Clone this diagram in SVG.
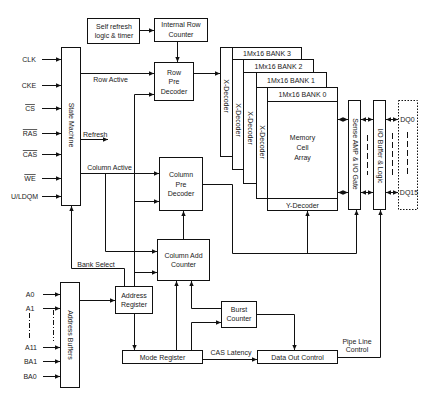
<svg xmlns="http://www.w3.org/2000/svg" width="437" height="409" viewBox="0 0 437 409">
<style>
.b{fill:#fff;stroke:#111;stroke-width:1}
.l{fill:none;stroke:#111;stroke-width:1}
.a{fill:none;stroke:#111;stroke-width:1;marker-end:url(#ah)}
.d{fill:none;stroke:#111;stroke-width:1;marker-end:url(#ah);marker-start:url(#ah)}
.dash{fill:none;stroke:#111;stroke-width:1;stroke-dasharray:6,3}
.dd{fill:none;stroke:#111;stroke-width:1;stroke-dasharray:5,2,1,2}
text{font-family:"Liberation Sans",Arial,sans-serif;font-size:7px;fill:#1a1a1a;text-anchor:middle;dominant-baseline:central}
.ov{text-decoration:overline}
</style>
<defs>
<marker id="ah" viewBox="0 0 5 5" refX="5" refY="2.5" markerWidth="5" markerHeight="5" markerUnits="userSpaceOnUse" orient="auto-start-reverse">
<path d="M0,0.3 L5,2.5 L0,4.7 z" fill="#111"/>
</marker>
</defs>
<rect width="437" height="409" fill="#fff"/>

<g id="connectors">
<path class="a" d="M140,30.5 H154"/>
<path class="a" d="M177.5,42 V62"/>
<path class="a" d="M81,73.5 H154"/>
<path class="a" d="M134.5,286 V94.5 H154"/>
<path class="a" d="M134.5,201.5 H159"/>
<path class="a" d="M134.5,272.5 H157"/>
<path class="a" d="M194,73.5 H220"/>
<path class="a" d="M81,139.5 H108"/>
<path class="a" d="M81,173.5 H159"/>
<path class="a" d="M105.5,173.5 V251.5 H157"/>
<path class="a" d="M183.5,239 V211"/>
<path class="a" d="M203,184.5 H232.5 V253.5 H356.5 V210"/>
<path class="a" d="M307.5,253.5 V211"/>
<path class="a" d="M124.5,287 V268.5 H71.5 V206"/>
<path class="a" d="M42,59.5 H61"/>
<path class="a" d="M42,85.5 H61"/>
<path class="a" d="M42,108.5 H61"/>
<path class="a" d="M42,133.5 H61"/>
<path class="a" d="M42,154.5 H61"/>
<path class="a" d="M42,178.5 H61"/>
<path class="a" d="M42,196.5 H61"/>
<path class="a" d="M43,294.5 H60"/>
<path class="a" d="M43,308.5 H60"/>
<path class="a" d="M43,347.5 H60"/>
<path class="a" d="M43,361.5 H60"/>
<path class="a" d="M43,376.5 H60"/>
<path class="dd" d="M29.5,313 V340"/>
<path class="dd" d="M53.5,310 V341"/>
<path class="a" d="M80,300.5 H115"/>
<path class="a" d="M134.5,314 V350"/>
<path class="a" d="M176.5,350 V281"/>
<path class="a" d="M221,308.5 H191.5 V281"/>
<path class="a" d="M191.5,350 V322.5 H221"/>
<path class="a" d="M257,314.5 H294.5 V350"/>
<path class="a" d="M203,359.5 H257"/>
<path class="a" d="M338,357.5 H380.5 V210"/>
<path class="d" d="M338,119.5 H348"/>
<path class="d" d="M361,119.5 H373"/>
<path class="d" d="M386,119.5 H398"/>
<path class="d" d="M338,192.5 H348"/>
<path class="d" d="M361,192.5 H373"/>
<path class="d" d="M386,192.5 H398"/>
<path class="dash" d="M367.5,135 V175"/>
<path class="dash" d="M392.5,133 V177"/>
<path class="dash" d="M407.5,132 V175"/>
</g>

<g id="inputs">
<text x="29" y="59.5">CLK</text>
<text x="29" y="85.5">CKE</text>
<text x="30" y="108.5" class="ov">CS</text>
<text x="30" y="133.5" class="ov">RAS</text>
<text x="30" y="154.5" class="ov">CAS</text>
<text x="30" y="178.5" class="ov">WE</text>
<text x="24.5" y="196.5">U/LDQM</text>
<text x="30" y="294.5">A0</text>
<text x="30" y="308.5">A1</text>
<text x="31" y="347.5">A11</text>
<text x="30.5" y="361.5">BA1</text>
<text x="30" y="376.5">BA0</text>
</g>

<g id="labels">
<text x="110.5" y="79">Row Active</text>
<text x="83" y="134.5" style="text-anchor:start">Refresh</text>
<text x="109.5" y="167">Column Active</text>
<text x="96" y="264">Bank Select</text>
<text x="231" y="352">CAS Latency</text>
<text x="357" y="341">Pipe Line</text>
<text x="357" y="349.5">Control</text>
</g>

<g id="self-refresh"><rect class="b" x="87.5" y="18.5" width="52" height="25"/><text x="114" y="26">Self refresh</text><text x="114" y="35">logic &amp; timer</text></g>
<g id="internal-row-counter"><rect class="b" x="154.5" y="18.5" width="53" height="23"/><text x="181" y="24.5">Internal Row</text><text x="181" y="34">Counter</text></g>
<g id="row-pre-decoder"><rect class="b" x="154.5" y="62.5" width="39" height="38"/><text x="174" y="72">Row</text><text x="174" y="81.5">Pre</text><text x="174" y="91">Decoder</text></g>
<g id="state-machine"><rect class="b" x="61.5" y="47.5" width="19" height="158"/><text transform="translate(71,125) rotate(90)">State Machine</text></g>
<g id="column-pre-decoder"><rect class="b" x="159.5" y="157.5" width="43" height="53"/><text x="181" y="174">Column</text><text x="181" y="184">Pre</text><text x="181" y="193.5">Decoder</text></g>
<g id="column-add-counter"><rect class="b" x="157.5" y="239.5" width="52" height="41"/><text x="183.5" y="255">Column Add</text><text x="183.5" y="264.5">Counter</text></g>
<g id="address-buffers"><rect class="b" x="60.5" y="282.5" width="19" height="105"/><text transform="translate(70,335) rotate(90)">Address Buffers</text></g>
<g id="address-register"><rect class="b" x="115.5" y="286.5" width="37" height="27"/><text x="134" y="295.5">Address</text><text x="134" y="304.5">Register</text></g>
<g id="mode-register"><rect class="b" x="122.5" y="350.5" width="80" height="13"/><text x="162.5" y="357">Mode Register</text></g>
<g id="burst-counter"><rect class="b" x="221.5" y="301.5" width="35" height="26"/><text x="239" y="309">Burst</text><text x="239" y="318">Counter</text></g>
<g id="data-out-control"><rect class="b" x="257.5" y="350.5" width="80" height="13"/><text x="297.5" y="357">Data Out Control</text></g>

<g id="bank3"><rect class="b" x="220.5" y="47.5" width="81" height="109"/><path class="l" d="M232.5,47.5 V156.5 M232.5,59.5 H301.5"/><text x="267" y="53.5">1Mx16 BANK 3</text><text transform="translate(226.5,96) rotate(90)">X-Decoder</text></g>
<g id="bank2"><rect class="b" x="232.5" y="59.5" width="81" height="110"/><path class="l" d="M243.5,59.5 V169.5 M243.5,72.5 H313.5"/><text x="278.5" y="66">1Mx16 BANK 2</text><text transform="translate(238,120) rotate(90)">X-Decoder</text></g>
<g id="bank1"><rect class="b" x="243.5" y="72.5" width="83" height="111"/><path class="l" d="M256.5,72.5 V183.5 M256.5,87.5 H326.5"/><text x="291" y="80">1Mx16 BANK 1</text><text transform="translate(250,128) rotate(90)">X-Decoder</text></g>
<g id="bank0"><rect class="b" x="256.5" y="87.5" width="81" height="111"/><path class="l" d="M267.5,87.5 V198.5 M267.5,101.5 H337.5"/><text x="302.5" y="94.5">1Mx16 BANK 0</text><text transform="translate(262,142) rotate(90)">X-Decoder</text><text x="302.5" y="137.5">Memory</text><text x="302.5" y="147.5">Cell</text><text x="302.5" y="157.5">Array</text></g>
<g id="y-decoder"><rect class="b" x="267.5" y="198.5" width="70" height="12"/><text x="302.5" y="205">Y-Decoder</text></g>
<g id="sense-amp"><rect class="b" x="348.5" y="100.5" width="12" height="109"/><text transform="translate(355,154) rotate(90)">Sense AMP &amp; I/O Gate</text></g>
<g id="io-buffer"><rect class="b" x="373.5" y="100.5" width="12" height="109"/><text transform="translate(380,156) rotate(90)">I/O Buffer &amp; Logic</text></g>
<g id="dq"><rect x="398.5" y="100.5" width="19" height="109" fill="none" stroke="#111" stroke-dasharray="1.5,1.5"/><text x="407.5" y="119.5">DQ0</text><text x="409" y="192.5">DQ15</text></g>
</svg>
